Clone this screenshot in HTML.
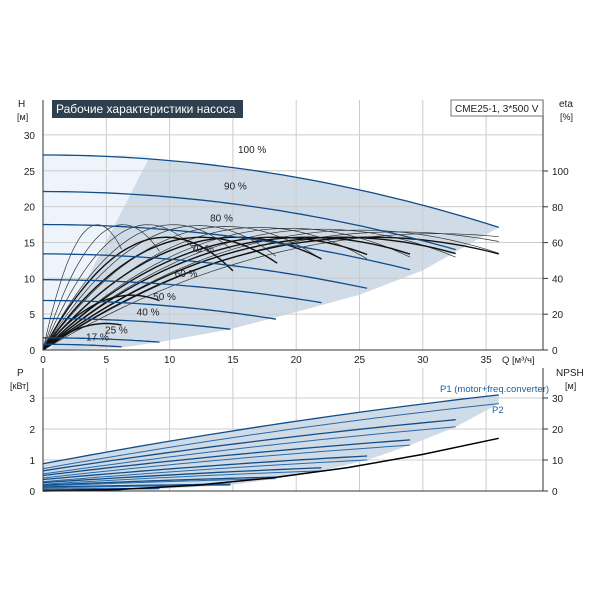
<!DOCTYPE html>
<html><head><meta charset="utf-8"><style>
html,body{margin:0;padding:0;background:#fff;}
svg{display:block;font-family:"Liberation Sans","DejaVu Sans",sans-serif;}
</style></head><body>
<svg id="c" width="600" height="600" viewBox="0 0 600 600" xmlns="http://www.w3.org/2000/svg">
<rect x="0" y="0" width="600" height="600" fill="#fff"/>
<g id="topPlot"></g>
<g id="botPlot"></g>
<rect x="52" y="100" width="191" height="18" fill="#2e3f4f"/>
<text x="56" y="113" font-size="12" fill="#fff">Рабочие характеристики насоса</text>
<rect x="451" y="100" width="92" height="16" fill="#fff" stroke="#555" stroke-width="0.8"/>
<text x="455" y="112" font-size="10" fill="#222">CME25-1, 3*500 V</text>
<text x="18" y="107" font-size="10" fill="#222">H</text>
<text x="17" y="120" font-size="9" fill="#222">[м]</text>
<text x="559" y="107" font-size="10" fill="#222">eta</text>
<text x="560" y="120" font-size="9" fill="#222">[%]</text>
<text x="17" y="376" font-size="10" fill="#222">P</text>
<text x="10" y="389" font-size="9" fill="#222">[кВт]</text>
<text x="556" y="376" font-size="10" fill="#222">NPSH</text>
<text x="565" y="389" font-size="9" fill="#222">[м]</text>
<text x="502" y="363" font-size="9.5" fill="#222">Q [м³/ч]</text>
<text x="440" y="392" font-size="9.5" fill="#1f5fa0">P1 (motor+freq.converter)</text>
<text x="492" y="413" font-size="9.5" fill="#1f5fa0">P2</text>
</svg>
<script>
// ---- data ----
const qTicks=[0,5,10,15,20,25,30,35];
const hTicks=[0,5,10,15,20,25,30];
const etaTicks=[0,20,40,60,80,100];
const pTicks=[0,1,2,3];
const npshTicks=[0,10,20,30];
const speedLabels=["100 %","90 %","80 %","70 %","60 %","50 %","40 %","25 %","17 %"];
const speedH0=[27.2,22.1,17.5,13.4,9.8,6.9,4.4,1.7,0.8];
const speedQend=[36,32.6,29,25.6,22,18.4,14.8,9.2,6.2];
const speedHend=[17.1,14.0,11.2,8.6,6.6,4.3,2.9,1.1,0.45];
const labelQ=[15.4,14.3,13.2,11.7,10.4,8.7,7.4,4.9,3.4];
const labelH=[27.5,22.4,17.9,13.7,10.2,7.0,4.8,2.3,1.3];
const etaThinQpk=[4.3,6.3,8.3,10.3,12.3,14.5,17,19.5,22,25,28,31];
const etaThinPeak=[70,70,70,70,69.5,69,68.5,68,67.5,67,66,65];
const etaThinQend=[6.2,9.2,12.2,14.8,18.4,22,25.6,29,32.6,36,36,36];
const etaThickQpk=[5,7,9.7,12.5,15.3,18.4,20.9,23.6,26];
const etaThickPeak=[14.8,30.6,63,63,63,63,63,63,63];
const etaThickQend=[6.2,9.2,15,18.5,22,25.6,29,32.6,36];
const lowerEdgeQ=[36,30,25,20,14.8,9.2,6];
const lowerEdgeH=[17.1,11.1,7.7,5.3,2.9,1.1,0.3];
const p1Start=[0.88,0.65,0.5,0.37,0.27,0.19,0.13,0.06,0.04];
const p1End=[3.1,2.3,1.65,1.13,0.75,0.45,0.22,0.08,0.05];
const p2Start=[0.72,0.55,0.42,0.3,0.22,0.16,0.1,0.05,0.03];
const p2End=[2.82,2.07,1.48,1.0,0.65,0.4,0.19,0.07,0.04];
const npshQ=[0,6,12,18,24,30,36];
const npshV=[0,0.5,1.8,4.2,7.5,11.8,17];

// ---- scales ----
const X=q=>43+q*12.66;
const YH=h=>350-h*7.17;
const YE=e=>350-e*1.79;
const YP=p=>491-p*31;
const YN=n=>491-n*3.1;
const NS="http://www.w3.org/2000/svg";
function mk(parent,tag,attrs){const e=document.createElementNS(NS,tag);for(const k in attrs)e.setAttribute(k,attrs[k]);parent.appendChild(e);return e;}
const topG=document.getElementById('topPlot'), botG=document.getElementById('botPlot');
function hCurve(i,q){const a=(speedH0[i]-speedHend[i])/(speedQend[i]*speedQend[i]);return speedH0[i]-a*q*q;}
function pathFrom(fn,q0,q1,n){let d="";for(let k=0;k<=n;k++){const q=q0+(q1-q0)*k/n;const [x,y]=fn(q);d+=(k?"L":"M")+x.toFixed(1)+","+y.toFixed(1);}return d;}

// ---- top plot: shading ----
let d=pathFrom(q=>[X(q),YH(hCurve(0,q))],0,speedQend[0],40);
for(let k=0;k<lowerEdgeQ.length;k++)d+="L"+X(lowerEdgeQ[k])+","+YH(lowerEdgeH[k]);
d+="L"+X(0.4)+","+YH(0)+"L"+X(0)+","+YH(0)+"Z";
let s=mk(topG,'path',{d:d,fill:'#cfdbe7'});


let l=mk(topG,'path',{d:"M"+X(0)+","+YH(0)+"L"+X(0)+","+YH(speedH0[0])+"L"+X(8.5)+","+YH(27.2)+"L"+X(0.6)+","+YH(0)+"Z",fill:'#edf4fb'});


// grid
hTicks.forEach(h=>{const g=mk(topG,'line',{x1:43,x2:543,y1:YH(h),y2:YH(h),stroke:'#cccccc','stroke-width':1});


const t=mk(topG,'text',{x:35,y:YH(h)+4,'font-size':10,'text-anchor':'end',fill:'#222'});t.textContent=h;

});
qTicks.forEach(q=>{const g=mk(topG,'line',{x1:X(q),x2:X(q),y1:100,y2:350,stroke:'#cccccc','stroke-width':1});


const g2=mk(botG,'line',{x1:X(q),x2:X(q),y1:368,y2:491,stroke:'#cccccc','stroke-width':1});


const t=mk(topG,'text',{x:X(q),y:363,'font-size':10,'text-anchor':'middle',fill:'#222'});t.textContent=q;

});
etaTicks.forEach(e=>{const tk=mk(topG,'line',{x1:543,x2:548,y1:YE(e),y2:YE(e),stroke:'#333'});


const t=mk(topG,'text',{x:552,y:YE(e)+4,'font-size':10,fill:'#222'});t.textContent=e;

});
// efficiency curves
function etaF(pk,qp){return q=>{const x=q/qp;return pk*(2*x-x*x);};}
etaThinQpk.forEach((qp,i)=>{const f=etaF(etaThinPeak[i],qp);
const p=mk(topG,'path',{d:pathFrom(q=>[X(q),YE(f(q))],0,etaThinQend[i],40),fill:'none',stroke:'#333','stroke-width':0.7});

});
etaThickQpk.forEach((qp,i)=>{const f=etaF(etaThickPeak[i],qp);
const p=mk(topG,'path',{d:pathFrom(q=>[X(q),YE(f(q))],0,etaThickQend[i],40),fill:'none',stroke:'#111','stroke-width':1.4});

});
// head curves
speedH0.forEach((h0,i)=>{const p=mk(topG,'path',{d:pathFrom(q=>[X(q),YH(hCurve(i,q))],0,speedQend[i],40),fill:'none',stroke:'#114d8a','stroke-width':1.3});


const t=mk(topG,'text',{x:X(labelQ[i]),y:YH(labelH[i]),'font-size':10,fill:'#222'});t.textContent=speedLabels[i];

});
let ax=mk(topG,'path',{d:"M43,100L43,350L543,350M543,100L543,350",fill:'none',stroke:'#333','stroke-width':1});



// ---- bottom plot ----
function pF(a,b,qe){return q=>{const t=q/qe;return a+(b-a)*(t*1.25-0.25*t*t);};}
let bd=pathFrom(q=>[X(q),YP(pF(p1Start[0],p1End[0],36)(q))],0,36,30);
for(let i=0;i<p2End.length;i++)bd+="L"+X(speedQend[i])+","+YP(p2End[i]);
bd+="L"+X(0)+","+YP(0)+"Z";
let bs=mk(botG,'path',{d:bd,fill:'#cfdbe7'});


pTicks.forEach(p=>{const g=mk(botG,'line',{x1:43,x2:543,y1:YP(p),y2:YP(p),stroke:'#cccccc'});


const t=mk(botG,'text',{x:35,y:YP(p)+4,'font-size':10,'text-anchor':'end',fill:'#222'});t.textContent=p;

});
npshTicks.forEach(n=>{const tk=mk(botG,'line',{x1:543,x2:548,y1:YN(n),y2:YN(n),stroke:'#333'});


const t=mk(botG,'text',{x:552,y:YN(n)+4,'font-size':10,fill:'#222'});t.textContent=n;

});
speedQend.forEach((qe,i)=>{
const a=mk(botG,'path',{d:pathFrom(q=>[X(q),YP(pF(p1Start[i],p1End[i],qe)(q))],0,qe,30),fill:'none',stroke:'#114d8a','stroke-width':1.3});


const b=mk(botG,'path',{d:pathFrom(q=>[X(q),YP(pF(p2Start[i],p2End[i],qe)(q))],0,qe,30),fill:'none',stroke:'#2a6aa8','stroke-width':1});

});
let nd="";npshQ.forEach((q,k)=>{nd+=(k?"L":"M")+X(q)+","+YN(npshV[k]);});
let np=mk(botG,'path',{d:nd,fill:'none',stroke:'#000','stroke-width':1.5});


let bx=mk(botG,'path',{d:"M43,368L43,491L543,491M543,368L543,491",fill:'none',stroke:'#333'});


</script>
</body></html>
